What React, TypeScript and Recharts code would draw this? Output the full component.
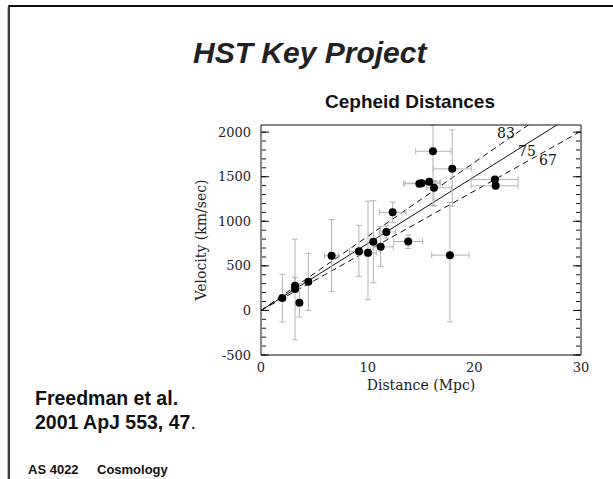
import React from 'react';
import {
  ScatterChart,
  Scatter,
  XAxis,
  YAxis,
  ErrorBar,
  ReferenceLine,
  ReferenceDot,
} from 'recharts';

// ---- data ----
const distances = [2.0, 3.19, 3.19, 3.6, 4.44, 6.62, 9.18, 10.03, 10.53, 11.22, 11.75, 12.34, 13.8, 14.84, 15.06, 15.77, 16.12, 16.22, 17.93, 17.71, 21.93, 22.0];
const velocities = [140, 278, 241, 85, 322, 613, 665, 646, 770, 713, 880, 1100, 773, 1421, 1427, 1443, 1785, 1376, 1588, 620, 1469, 1398];
const velLow = [-130, -330, 204, -75, 0, 210, 383, 120, 310, 494, 810, 985, 695, 1390, 1395, 1410, 1170, 1178, 1170, -127, 1440, 1370];
const velHigh = [405, 800, 371, 300, 640, 1020, 955, 1226, 1230, 940, 950, 1215, 847, 1450, 1460, 1475, 2080, 1458, 2025, 1212, 1500, 1430];
const distLow = [1.9, 3.0, 3.0, 3.5, 4.3, 5.95, 8.3, 9.3, 10.3, 10.5, 11.1, 11.1, 12.46, 13.34, 13.5, 14.8, 14.5, 15.5, 16.15, 16.0, 19.7, 19.7];
const distHigh = [2.1, 3.4, 3.4, 3.7, 4.6, 7.25, 10.0, 10.8, 10.8, 12.4, 12.6, 13.6, 15.15, 16.4, 16.78, 16.8, 17.8, 17.9, 19.75, 19.5, 24.1, 24.1];

const hubbleConstants = [83, 75, 67];
const hubbleLabels = ['83', '75', '67'];

const xMajorTicks = [0, 10, 20, 30];
const xMinorTicks = [0, 2, 4, 6, 8, 10, 12, 14, 16, 18, 20, 22, 24, 26, 28, 30];
const yMajorTicks = [-500, 0, 500, 1000, 1500, 2000];
const yMinorTicks = [-500, -400, -300, -200, -100, 0, 100, 200, 300, 400, 500, 600, 700, 800, 900, 1000, 1100, 1200, 1300, 1400, 1500, 1600, 1700, 1800, 1900, 2000];

const X_DOMAIN: [number, number] = [0, 30];
const Y_DOMAIN: [number, number] = [-500, 2080];

const SERIF = '"DejaVu Serif", serif';
const SANS = 'Arial, "Liberation Sans", sans-serif';

const blank = () => '';

export default function App() {
  const data = distances.map((d, i) => ({
    d,
    v: velocities[i],
    ey: [velocities[i] - velLow[i], velHigh[i] - velocities[i]],
    ex: [d - distLow[i], distHigh[i] - d],
  }));

  const lines = hubbleConstants.map((h0) => {
    const xe = Math.min(X_DOMAIN[1], Y_DOMAIN[1] / h0);
    return { h0, xe, ye: h0 * xe };
  });

  const labelAnchors = [
    { x: 22.97, y: 1991 },
    { x: 24.94, y: 1789 },
    { x: 26.9, y: 1688 },
  ];

  const tickLineStyle = { stroke: '#111', strokeWidth: 1 };
  const frameLine = { stroke: '#111', strokeWidth: 1 };

  return (
    <div style={{ position: 'absolute', left: 0, top: 0, width: 613, height: 479, overflow: 'hidden', background: '#fff' }}>
      <div style={{ position: 'absolute', left: 0, top: 0 }}>
        <ScatterChart width={613} height={479} margin={{ top: 125, right: 32, bottom: 64, left: 141 }}>
          <XAxis
            xAxisId="x"
            dataKey="d"
            type="number"
            domain={X_DOMAIN}
            ticks={xMajorTicks}
            interval={0}
            allowDataOverflow
            height={60}
            tickLine={false}
            axisLine={frameLine}
            tick={{ fill: '#222', fontSize: 13, fontFamily: SERIF }}
            label={{ value: 'Distance (Mpc)', position: 'center', fill: '#222', fontSize: 14, fontFamily: SERIF }}
          />
          <YAxis
            yAxisId="y"
            dataKey="v"
            type="number"
            domain={Y_DOMAIN}
            ticks={yMajorTicks}
            interval={0}
            allowDataOverflow
            width={120}
            tickLine={false}
            tickMargin={4}
            axisLine={frameLine}
            tick={{ fill: '#222', fontSize: 13, fontFamily: SERIF }}
            label={{ value: 'Velocity (km/sec)', position: 'center', angle: -90, fill: '#222', fontSize: 14, fontFamily: SERIF }}
          />

          {/* inward frame ticks on all four sides */}
          <XAxis xAxisId="xbMaj" type="number" domain={X_DOMAIN} allowDataOverflow ticks={xMajorTicks} interval={0} orientation="bottom" mirror height={1} tickSize={8} tickFormatter={blank} axisLine={false} tickLine={tickLineStyle} />
          <XAxis xAxisId="xbMin" type="number" domain={X_DOMAIN} allowDataOverflow ticks={xMinorTicks} interval={0} orientation="bottom" mirror height={1} tickSize={4} tickFormatter={blank} axisLine={false} tickLine={tickLineStyle} />
          <XAxis xAxisId="xtMaj" type="number" domain={X_DOMAIN} allowDataOverflow ticks={xMajorTicks} interval={0} orientation="top" mirror height={1} tickSize={8} tickFormatter={blank} axisLine={frameLine} tickLine={tickLineStyle} />
          <XAxis xAxisId="xtMin" type="number" domain={X_DOMAIN} allowDataOverflow ticks={xMinorTicks} interval={0} orientation="top" mirror height={1} tickSize={4} tickFormatter={blank} axisLine={false} tickLine={tickLineStyle} />
          <YAxis yAxisId="ylMaj" type="number" domain={Y_DOMAIN} allowDataOverflow ticks={yMajorTicks} interval={0} orientation="left" mirror width={1} tickSize={8} tickFormatter={blank} axisLine={false} tickLine={tickLineStyle} />
          <YAxis yAxisId="ylMin" type="number" domain={Y_DOMAIN} allowDataOverflow ticks={yMinorTicks} interval={0} orientation="left" mirror width={1} tickSize={4} tickFormatter={blank} axisLine={false} tickLine={tickLineStyle} />
          <YAxis yAxisId="yrMaj" type="number" domain={Y_DOMAIN} allowDataOverflow ticks={yMajorTicks} interval={0} orientation="right" mirror width={1} tickSize={8} tickFormatter={blank} axisLine={frameLine} tickLine={tickLineStyle} />
          <YAxis yAxisId="yrMin" type="number" domain={Y_DOMAIN} allowDataOverflow ticks={yMinorTicks} interval={0} orientation="right" mirror width={1} tickSize={4} tickFormatter={blank} axisLine={false} tickLine={tickLineStyle} />

          {lines.map((l) => (
            <ReferenceLine
              key={l.h0}
              xAxisId="x"
              yAxisId="y"
              segment={[{ x: 0, y: 0 }, { x: l.xe, y: l.ye }]}
              stroke="#111"
              strokeWidth={1}
              strokeDasharray={l.h0 === 75 ? undefined : '6 4'}
              ifOverflow="visible"
            />
          ))}

          <Scatter
            xAxisId="x"
            yAxisId="y"
            data={data}
            dataKey="v"
            isAnimationActive={false}
            shape={(p: any) => <circle cx={p.cx} cy={p.cy} r={4} fill="#000" />}
          >
            <ErrorBar dataKey="ey" direction="y" width={3} stroke="#b4b4b4" strokeWidth={1} />
            <ErrorBar dataKey="ex" direction="x" width={3} stroke="#b4b4b4" strokeWidth={1} />
          </Scatter>

          {hubbleLabels.map((t, i) => (
            <ReferenceDot
              key={t}
              xAxisId="x"
              yAxisId="y"
              x={labelAnchors[i].x}
              y={labelAnchors[i].y}
              r={0}
              stroke="none"
              fill="none"
              label={{ value: t, position: 'center', fill: '#111', fontSize: 14, fontFamily: SERIF }}
            />
          ))}
        </ScatterChart>
      </div>

      <svg width={613} height={479} style={{ position: 'absolute', left: 0, top: 0, pointerEvents: 'none' }}>
        <line x1={7.5} y1={7} x2={7.5} y2={479} stroke="#bbb" strokeWidth={1} />
        <line x1={9} y1={6} x2={613} y2={6} stroke="#111" strokeWidth={2} />
        <line x1={9} y1={5} x2={9} y2={479} stroke="#111" strokeWidth={1.6} />
        <text x={193} y={63} fontFamily={SANS} fontWeight="bold" fontStyle="italic" fontSize={30} fill="#222">HST Key Project</text>
        <text x={325} y={108} fontFamily={SANS} fontWeight="bold" fontSize={19} fill="#111">Cepheid Distances</text>
        <text x={35} y={405} fontFamily={SANS} fontWeight="bold" fontSize={19.5} fill="#111">Freedman et al.</text>
        <text x={35} y={429} fontFamily={SANS} fontWeight="bold" fontSize={19.5} fill="#111">2001 ApJ 553, 47<tspan fontWeight="normal">.</tspan></text>
        <text x={28} y={474} fontFamily={SANS} fontWeight="bold" fontSize={13} fill="#111">AS 4022</text>
        <text x={97} y={474} fontFamily={SANS} fontWeight="bold" fontSize={13} fill="#111">Cosmology</text>
      </svg>
    </div>
  );
}
